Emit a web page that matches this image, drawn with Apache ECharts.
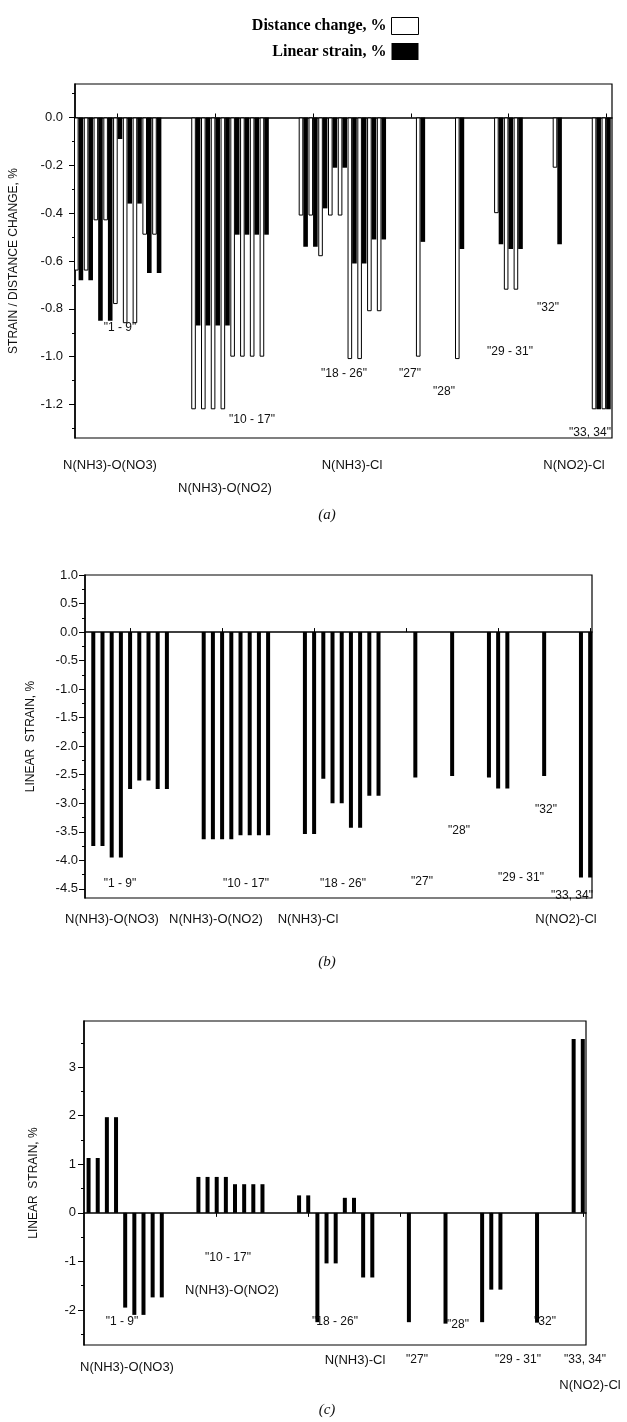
<!DOCTYPE html>
<html>
<head>
<meta charset="utf-8">
<script src="https://cdn.jsdelivr.net/npm/echarts@6/dist/echarts.min.js"></script>
<style>
  body { margin: 0; background: #fff; }
  #chart { width: 627px; height: 1422px; }
</style>
</head>
<body>
<div id="chart"></div>
<script>
// position of structures 1..34 on the x axis (groups separated by gaps)
const positions = [6, 7, 8, 9, 10, 11, 12, 13, 14,
  18, 19, 20, 21, 22, 23, 24, 25,
  29, 30, 31, 32, 33, 34, 35, 36, 37,
  41, 45, 49, 50, 51, 55, 59, 60]
const xTicks = [10, 20, 30, 40, 50, 60]

// (a) distance change and linear strain, %
const distanceA = [-0.64, -0.64, -0.43, -0.43, -0.78, -0.86, -0.86, -0.49, -0.49,
  -1.22, -1.22, -1.22, -1.22, -1.0, -1.0, -1.0, -1.0,
  -0.41, -0.41, -0.58, -0.41, -0.41, -1.01, -1.01, -0.81, -0.81,
  -1.0, -1.01, -0.40, -0.72, -0.72, -0.21, -1.22, -1.22]
const strainA = [-0.68, -0.68, -0.85, -0.85, -0.09, -0.36, -0.36, -0.65, -0.65,
  -0.87, -0.87, -0.87, -0.87, -0.49, -0.49, -0.49, -0.49,
  -0.54, -0.54, -0.38, -0.21, -0.21, -0.61, -0.61, -0.51, -0.51,
  -0.52, -0.55, -0.53, -0.55, -0.55, -0.53, -1.22, -1.22]
// (b) linear strain, %
const strainB = [-3.75, -3.75, -3.95, -3.95, -2.75, -2.6, -2.6, -2.75, -2.75,
  -3.63, -3.63, -3.63, -3.63, -3.56, -3.56, -3.56, -3.56,
  -3.54, -3.54, -2.57, -3.0, -3.0, -3.43, -3.43, -2.87, -2.87,
  -2.55, -2.52, -2.55, -2.74, -2.74, -2.52, -4.3, -4.3]
// (c) linear strain, %
const strainC = [1.13, 1.13, 1.97, 1.97, -1.95, -2.1, -2.1, -1.74, -1.74,
  0.74, 0.74, 0.74, 0.74, 0.59, 0.59, 0.59, 0.59,
  0.36, 0.36, -2.25, -1.04, -1.04, 0.31, 0.31, -1.33, -1.33,
  -2.25, -2.28, -2.25, -1.58, -1.58, -2.26, 3.58, 3.58]

const labelsA = ['0.0', '-0.2', '-0.4', '-0.6', '-0.8', '-1.0', '-1.2']
const minorA = [0.1, -0.1, -0.3, -0.5, -0.7, -0.9, -1.1, -1.3]
const labelsB = ['1.0', '0.5', '0.0', '-0.5', '-1.0', '-1.5', '-2.0', '-2.5', '-3.0', '-3.5', '-4.0', '-4.5']
const minorB = [0.75, 0.25, -0.25, -0.75, -1.25, -1.75, -2.25, -2.75, -3.25, -3.75, -4.25]
const labelsC = ['3', '2', '1', '0', '-1', '-2']
const minorC = [3.5, 2.5, 1.5, 0.5, -0.5, -1.5, -2.5]

const pairs = vals => vals.map((v, i) => [positions[i], v])
const sans = 'Liberation Sans, Arial, sans-serif'

const grids = [
  { left: 75, top: 84, width: 537, height: 354 },
  { left: 85, top: 575, width: 507, height: 323 },
  { left: 84, top: 1021, width: 502, height: 324 }
]
const xRanges = [[5.63, 60.6], [5.1, 60.2], [5.5, 60.35]]
const yRanges = [[-1.34, 0.14], [-4.66, 1.0], [-2.72, 3.95]]
const yLabels = [labelsA, labelsB, labelsC]
const yMinor = [minorA, minorB, minorC]
const yNames = ['STRAIN / DISTANCE CHANGE, %', 'LINEAR  STRAIN, %', 'LINEAR  STRAIN, %']
const nameGaps = [55, 48, 44]
const labelMargins = [12, 7, 8]
const tickInside = [false, true, false]

const chart = echarts.init(document.getElementById('chart'), null, { renderer: 'canvas' })

const xAxis = grids.map((g, i) => ({
  type: 'value',
  gridIndex: i,
  min: xRanges[i][0],
  max: xRanges[i][1],
  axisLine: { onZero: true, lineStyle: { color: '#000', width: 1.5 } },
  axisTick: { inside: tickInside[i] || i === 0, length: 4, customValues: xTicks, lineStyle: { color: '#000' } },
  axisLabel: { show: false },
  splitLine: { show: false }
}))

const yAxis = []
grids.forEach((g, i) => {
  yAxis.push({
    type: 'value',
    gridIndex: i,
    min: yRanges[i][0],
    max: yRanges[i][1],
    name: yNames[i],
    nameLocation: 'middle',
    nameGap: nameGaps[i],
    nameTextStyle: { color: '#111', fontFamily: sans, fontSize: 12 },
    axisLine: { show: true, lineStyle: { color: '#000', width: 1.5 } },
    axisTick: { length: 6, customValues: yLabels[i].map(Number), lineStyle: { color: '#000' } },
    axisLabel: { color: '#111', fontFamily: sans, fontSize: 13, margin: labelMargins[i], customValues: yLabels[i].map(Number),
      formatter: v => yLabels[i].find(s => Number(s) === v) },
    splitLine: { show: false }
  })
  // minor ticks
  yAxis.push({
    type: 'value',
    gridIndex: i,
    min: yRanges[i][0],
    max: yRanges[i][1],
    position: 'left',
    axisLine: { show: false },
    axisTick: { length: 3, customValues: yMinor[i], lineStyle: { color: '#000' } },
    axisLabel: { show: false, customValues: yMinor[i] },
    splitLine: { show: false }
  })
})

const series = [
  {
    name: 'Distance change, %', type: 'bar', xAxisIndex: 0, yAxisIndex: 0,
    barWidth: 4.6, barGap: '0%',
    itemStyle: { color: '#fff', borderColor: '#000', borderWidth: 1 },
    data: pairs(distanceA)
  },
  {
    name: 'Linear strain, %', type: 'bar', xAxisIndex: 0, yAxisIndex: 0,
    barWidth: 4.6, barGap: '0%',
    itemStyle: { color: '#000' },
    data: pairs(strainA)
  },
  {
    name: 'Linear strain, %', type: 'bar', xAxisIndex: 1, yAxisIndex: 2,
    barWidth: 4,
    itemStyle: { color: '#000' },
    data: pairs(strainB)
  },
  {
    name: 'Linear strain, %', type: 'bar', xAxisIndex: 2, yAxisIndex: 4,
    barWidth: 4,
    itemStyle: { color: '#000' },
    data: pairs(strainC)
  }
]

function txt(text, x, y, size, font) {
  return {
    type: 'text', x: x, y: y, z: 100,
    style: { text: text, fill: '#111', font: (font || 'normal ' + size + 'px ' + sans), textAlign: 'center', textVerticalAlign: 'middle' }
  }
}

const notes = [
  // (a)
  txt('"1 - 9"', 120, 328, 12), txt('"10 - 17"', 252, 420, 12), txt('"18 - 26"', 344, 374, 12),
  txt('"27"', 410, 374, 12), txt('"28"', 444, 392, 12), txt('"29 - 31"', 510, 352, 12),
  txt('"32"', 548, 308, 12), txt('"33, 34"', 590, 433, 12),
  txt('N(NH3)-O(NO3)', 110, 465, 13), txt('N(NH3)-O(NO2)', 225, 488, 13),
  txt('N(NH3)-Cl', 352, 465, 13), txt('N(NO2)-Cl', 574, 465, 13),
  txt('(a)', 327, 515, 0, 'italic 15px Liberation Serif'),
  // (b)
  txt('"1 - 9"', 120, 884, 12), txt('"10 - 17"', 246, 884, 12), txt('"18 - 26"', 343, 884, 12),
  txt('"27"', 422, 882, 12), txt('"28"', 459, 831, 12), txt('"29 - 31"', 521, 878, 12),
  txt('"32"', 546, 810, 12), txt('"33, 34"', 572, 896, 12),
  txt('N(NH3)-O(NO3)', 112, 919, 13), txt('N(NH3)-O(NO2)', 216, 919, 13),
  txt('N(NH3)-Cl', 308, 919, 13), txt('N(NO2)-Cl', 566, 919, 13),
  txt('(b)', 327, 962, 0, 'italic 15px Liberation Serif'),
  // (c)
  txt('"1 - 9"', 122, 1322, 12), txt('"10 - 17"', 228, 1258, 12), txt('N(NH3)-O(NO2)', 232, 1290, 13),
  txt('"18 - 26"', 335, 1322, 12), txt('"28"', 458, 1325, 12), txt('"32"', 545, 1322, 12),
  txt('N(NH3)-O(NO3)', 127, 1367, 13), txt('N(NH3)-Cl', 355, 1360, 13), txt('"27"', 417, 1360, 12),
  txt('"29 - 31"', 518, 1360, 12), txt('"33, 34"', 585, 1360, 12), txt('N(NO2)-Cl', 590, 1385, 13),
  txt('(c)', 327, 1410, 0, 'italic 15px Liberation Serif')
]

chart.setOption({
  backgroundColor: '#fff',
  animation: false,
  legend: {
    orient: 'vertical',
    right: 203,
    top: 12,
    align: 'right',
    icon: 'rect',
    itemWidth: 27,
    itemHeight: 17,
    itemGap: 8,
    selectedMode: false,
    textStyle: { color: '#000', fontFamily: 'Liberation Serif', fontWeight: 'bold', fontSize: 16 },
    data: [
      { name: 'Distance change, %', itemStyle: { color: '#fff', borderColor: '#000', borderWidth: 1 } },
      { name: 'Linear strain, %', itemStyle: { color: '#000' } }
    ]
  },
  grid: grids.map(g => Object.assign({ show: true, borderColor: '#000', borderWidth: 1.2, containLabel: false }, g)),
  xAxis: xAxis,
  yAxis: yAxis,
  series: series,
  graphic: notes
})
</script>
</body>
</html>
